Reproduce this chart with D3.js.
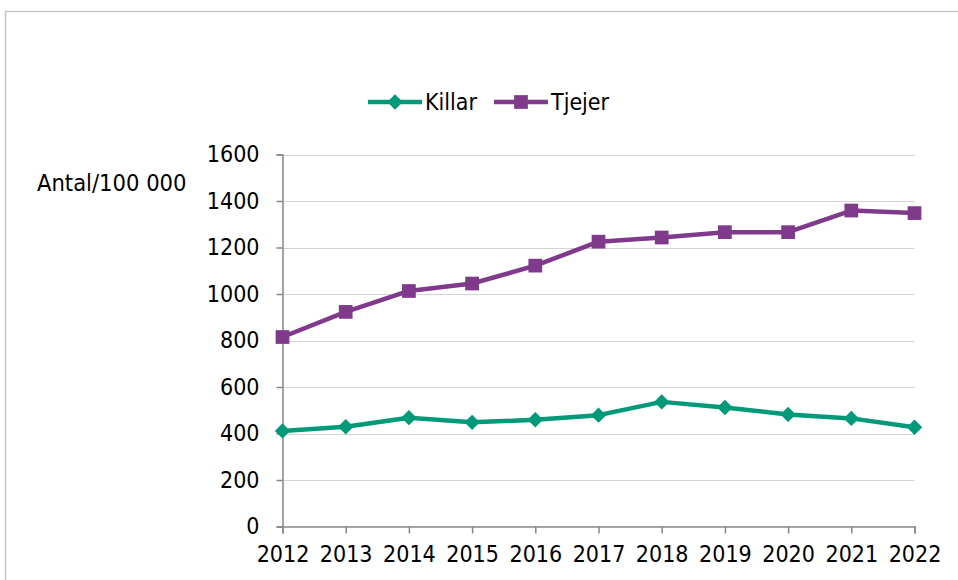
<!DOCTYPE html>
<html>
<head>
<meta charset="utf-8">
<script src="https://cdn.jsdelivr.net/npm/d3@7"></script>
<style>
  body { margin: 0; background: #fff; }
  svg { display: block; font-family: "DejaVu Sans Condensed", "DejaVu Sans", sans-serif; font-stretch: condensed; }
</style>
</head>
<body>
<div id="chart"></div>
<script>
// data
var years = ["2012", "2013", "2014", "2015", "2016", "2017", "2018", "2019", "2020", "2021", "2022"];
var killar = [411, 429, 468, 448, 459, 479, 536, 512, 482, 465, 427];
var tjejer = [815, 923, 1013, 1045, 1122, 1225, 1243, 1266, 1266, 1359, 1348];
var yTicks = [0, 200, 400, 600, 800, 1000, 1200, 1400, 1600];
var seriesNames = ["Killar", "Tjejer"];

var width = 958, height = 580;
var colors = { Killar: "#009a78", Tjejer: "#803a8c" };
var fontFam = "'DejaVu Sans Condensed', 'DejaVu Sans', sans-serif";

var svg = d3.select("#chart").append("svg")
  .attr("width", width)
  .attr("height", height);

// outer frame
svg.append("rect")
  .attr("x", 5.5).attr("y", 11.5)
  .attr("width", 980).attr("height", 600)
  .style("fill", "none")
  .style("stroke", "#c6c6c6")
  .style("stroke-width", 1.5);

var x = d3.scalePoint().domain(years).range([282.5, 914.5]);
var y = d3.scaleLinear().domain([0, 1600]).range([526.5, 154.5]);

// gridlines
svg.append("g").selectAll("line")
  .data(yTicks.slice(1))
  .enter().append("line")
  .attr("x1", 282.5).attr("x2", 914.5)
  .attr("y1", function(d) { return Math.round(y(d)) + 0.5; })
  .attr("y2", function(d) { return Math.round(y(d)) + 0.5; })
  .style("stroke", "#d4d4d4")
  .style("stroke-width", 1);

// y axis
var yAxis = svg.append("g")
  .attr("transform", "translate(282.5,0)")
  .call(d3.axisLeft(y).tickValues(yTicks).tickSize(6).tickPadding(17).tickFormat(d3.format("d")));

// x axis
var xAxis = svg.append("g")
  .attr("transform", "translate(0,526.5)")
  .call(d3.axisBottom(x).tickSize(7).tickPadding(7));

[yAxis, xAxis].forEach(function(a) {
  a.select(".domain").style("stroke", "#868686").style("stroke-width", 1.5);
  a.selectAll(".tick line").style("stroke", "#868686").style("stroke-width", 1.5);
  a.selectAll("text").style("font-size", "23px").style("fill", "#000")
    .style("font-family", fontFam);
});
xAxis.selectAll("text").attr("dy", "0.95em");

// axis title
svg.append("text")
  .attr("x", 37).attr("y", 191)
  .style("font-size", "23.5px")
  .text("Antal/100 000");

var line = d3.line()
  .x(function(d, i) { return x(years[i]); })
  .y(function(d) { return y(d); });

var diamond = d3.symbol().type(d3.symbolDiamond2).size(150);
var square = d3.symbol().type(d3.symbolSquare2).size(240);

// series
[["Killar", killar, diamond], ["Tjejer", tjejer, square]].forEach(function(s) {
  var g = svg.append("g");
  g.append("path")
    .datum(s[1])
    .attr("d", line)
    .style("fill", "none")
    .style("stroke", colors[s[0]])
    .style("stroke-width", 4.5)
    .style("stroke-linejoin", "round");
  g.selectAll("path.pt")
    .data(s[1])
    .enter().append("path")
    .attr("class", "pt")
    .attr("d", s[2])
    .attr("transform", function(d, i) { return "translate(" + x(years[i]) + "," + y(d) + ")"; })
    .style("fill", colors[s[0]]);
});

// legend
var legendX = [368, 494];
var legend = svg.append("g").selectAll("g")
  .data(seriesNames)
  .enter().append("g")
  .attr("transform", function(d, i) { return "translate(" + legendX[i] + ",102)"; });

legend.append("line")
  .attr("x1", 0).attr("x2", 54)
  .style("stroke", function(d) { return colors[d]; })
  .style("stroke-width", 4.5);
legend.append("path")
  .attr("d", function(d) { return d === "Killar" ? diamond() : square(); })
  .attr("transform", "translate(27,0)")
  .style("fill", function(d) { return colors[d]; });
legend.append("text")
  .attr("x", 57).attr("dy", "0.35em")
  .style("font-size", "23px")
  .text(function(d) { return d; });
</script>
</body>
</html>
